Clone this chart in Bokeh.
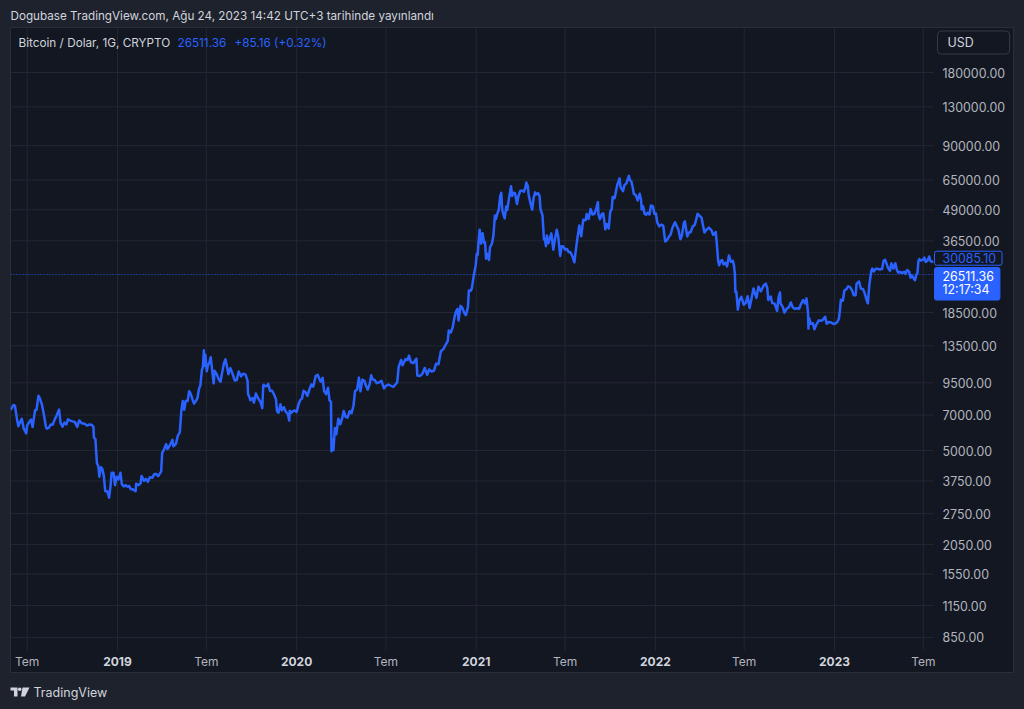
import math
import pandas as pd
from bokeh.plotting import figure
from bokeh.models import Range1d, Label, ColumnDataSource, Spacer
from bokeh.layouts import column, row
from bokeh.embed import file_html
from bokeh.resources import INLINE

# ---------------- data ----------------
dates = [
    "2018-05-28", "2018-05-31", "2018-06-03", "2018-06-06", "2018-06-10", "2018-06-13", "2018-06-16",
    "2018-06-20", "2018-06-24", "2018-06-29", "2018-07-01", "2018-07-05", "2018-07-09", "2018-07-12",
    "2018-07-17", "2018-07-20", "2018-07-24", "2018-07-27", "2018-07-31", "2018-08-04", "2018-08-08",
    "2018-08-10", "2018-08-14", "2018-08-18", "2018-08-22", "2018-08-26", "2018-08-30", "2018-09-04",
    "2018-09-07", "2018-09-11", "2018-09-15", "2018-09-19", "2018-09-22", "2018-09-27", "2018-10-01",
    "2018-10-06", "2018-10-11", "2018-10-15", "2018-10-20", "2018-10-26", "2018-10-31", "2018-11-05",
    "2018-11-10", "2018-11-13", "2018-11-14", "2018-11-17", "2018-11-19", "2018-11-20", "2018-11-23",
    "2018-11-25", "2018-11-28", "2018-12-01", "2018-12-04", "2018-12-07", "2018-12-11", "2018-12-15",
    "2018-12-18", "2018-12-20", "2018-12-24", "2018-12-27", "2018-12-30",
    "2019-01-03", "2019-01-07", "2019-01-10", "2019-01-14", "2019-01-18", "2019-01-21", "2019-01-25",
    "2019-01-28", "2019-02-01", "2019-02-07", "2019-02-08", "2019-02-13", "2019-02-17", "2019-02-19",
    "2019-02-24", "2019-02-28", "2019-03-04", "2019-03-08", "2019-03-13", "2019-03-17", "2019-03-21",
    "2019-03-25", "2019-03-31", "2019-04-02", "2019-04-06", "2019-04-10", "2019-04-13", "2019-04-18",
    "2019-04-23", "2019-04-25", "2019-04-30", "2019-05-04", "2019-05-08", "2019-05-11", "2019-05-14",
    "2019-05-17", "2019-05-20", "2019-05-24", "2019-05-27", "2019-05-30", "2019-06-03", "2019-06-06",
    "2019-06-10", "2019-06-13", "2019-06-16", "2019-06-19", "2019-06-22", "2019-06-24", "2019-06-26",
    "2019-06-27", "2019-06-29", "2019-07-02", "2019-07-04", "2019-07-07", "2019-07-10", "2019-07-14",
    "2019-07-16", "2019-07-18", "2019-07-22", "2019-07-26", "2019-07-30", "2019-08-02", "2019-08-06",
    "2019-08-09", "2019-08-13", "2019-08-15", "2019-08-19", "2019-08-23", "2019-08-28", "2019-09-01",
    "2019-09-05", "2019-09-10", "2019-09-14", "2019-09-19", "2019-09-23", "2019-09-24", "2019-09-29",
    "2019-10-03", "2019-10-06", "2019-10-10", "2019-10-15", "2019-10-19", "2019-10-23", "2019-10-25",
    "2019-10-26", "2019-10-28", "2019-11-01", "2019-11-04", "2019-11-08", "2019-11-12", "2019-11-16",
    "2019-11-20", "2019-11-22", "2019-11-25", "2019-11-29", "2019-12-02", "2019-12-06", "2019-12-10",
    "2019-12-14", "2019-12-17", "2019-12-18", "2019-12-21", "2019-12-24", "2019-12-28",
    "2020-01-01", "2020-01-05", "2020-01-08", "2020-01-12", "2020-01-15", "2020-01-19", "2020-01-23",
    "2020-01-27", "2020-01-31", "2020-02-04", "2020-02-09", "2020-02-13", "2020-02-16", "2020-02-19",
    "2020-02-23", "2020-02-26", "2020-03-01", "2020-03-05", "2020-03-08", "2020-03-11", "2020-03-12",
    "2020-03-13", "2020-03-16", "2020-03-19", "2020-03-22", "2020-03-26", "2020-03-30", "2020-04-03",
    "2020-04-06", "2020-04-10", "2020-04-14", "2020-04-18", "2020-04-22", "2020-04-26", "2020-04-29",
    "2020-05-03", "2020-05-07", "2020-05-10", "2020-05-14", "2020-05-18", "2020-05-22", "2020-05-25",
    "2020-05-29", "2020-06-01", "2020-06-04", "2020-06-08", "2020-06-12", "2020-06-16", "2020-06-22",
    "2020-06-27", "2020-07-01", "2020-07-06", "2020-07-11", "2020-07-16", "2020-07-21", "2020-07-24",
    "2020-07-27", "2020-08-01", "2020-08-04", "2020-08-10", "2020-08-14", "2020-08-17", "2020-08-21",
    "2020-08-26", "2020-09-01", "2020-09-03", "2020-09-08", "2020-09-13", "2020-09-18", "2020-09-23",
    "2020-09-27", "2020-10-02", "2020-10-07", "2020-10-11", "2020-10-16", "2020-10-21", "2020-10-26",
    "2020-10-30", "2020-11-04", "2020-11-06", "2020-11-10", "2020-11-14", "2020-11-18", "2020-11-21",
    "2020-11-24", "2020-11-26", "2020-11-30", "2020-12-03", "2020-12-08", "2020-12-11", "2020-12-15",
    "2020-12-17", "2020-12-21", "2020-12-23", "2020-12-27", "2020-12-31",
    "2021-01-02", "2021-01-04", "2021-01-06", "2021-01-08", "2021-01-11", "2021-01-13", "2021-01-14",
    "2021-01-17", "2021-01-19", "2021-01-21", "2021-01-24", "2021-01-27", "2021-01-29", "2021-02-02",
    "2021-02-05", "2021-02-08", "2021-02-10", "2021-02-13", "2021-02-16", "2021-02-19", "2021-02-21",
    "2021-02-23", "2021-02-26", "2021-02-28", "2021-03-03", "2021-03-05", "2021-03-09", "2021-03-13",
    "2021-03-15", "2021-03-18", "2021-03-21", "2021-03-25", "2021-03-28", "2021-04-01", "2021-04-05",
    "2021-04-08", "2021-04-11", "2021-04-13", "2021-04-16", "2021-04-18", "2021-04-22", "2021-04-25",
    "2021-04-28", "2021-05-01", "2021-05-03", "2021-05-07", "2021-05-10", "2021-05-12", "2021-05-16",
    "2021-05-19", "2021-05-21", "2021-05-23", "2021-05-25", "2021-05-28", "2021-05-31", "2021-06-03",
    "2021-06-07", "2021-06-10", "2021-06-14", "2021-06-17", "2021-06-21", "2021-06-24", "2021-06-27",
    "2021-07-01", "2021-07-05", "2021-07-08", "2021-07-12", "2021-07-16", "2021-07-20", "2021-07-22",
    "2021-07-26", "2021-07-30", "2021-08-03", "2021-08-07", "2021-08-12", "2021-08-14", "2021-08-18",
    "2021-08-22", "2021-08-26", "2021-08-30", "2021-09-03", "2021-09-06", "2021-09-07", "2021-09-10",
    "2021-09-14", "2021-09-17", "2021-09-21", "2021-09-24", "2021-09-28", "2021-10-01", "2021-10-04",
    "2021-10-06", "2021-10-10", "2021-10-15", "2021-10-20", "2021-10-22", "2021-10-27", "2021-10-30",
    "2021-11-03", "2021-11-08", "2021-11-10", "2021-11-13", "2021-11-16", "2021-11-18", "2021-11-22",
    "2021-11-26", "2021-11-30", "2021-12-03", "2021-12-04", "2021-12-07", "2021-12-10", "2021-12-13",
    "2021-12-16", "2021-12-20", "2021-12-23", "2021-12-27", "2021-12-30",
    "2022-01-02", "2022-01-05", "2022-01-09", "2022-01-13", "2022-01-17", "2022-01-21", "2022-01-24",
    "2022-01-28", "2022-02-01", "2022-02-05", "2022-02-10", "2022-02-13", "2022-02-17", "2022-02-21",
    "2022-02-24", "2022-02-28", "2022-03-02", "2022-03-07", "2022-03-10", "2022-03-14", "2022-03-18",
    "2022-03-22", "2022-03-25", "2022-03-28", "2022-04-01", "2022-04-05", "2022-04-08", "2022-04-11",
    "2022-04-15", "2022-04-20", "2022-04-25", "2022-04-29", "2022-05-04", "2022-05-06", "2022-05-09",
    "2022-05-11", "2022-05-14", "2022-05-17", "2022-05-20", "2022-05-24", "2022-05-27", "2022-05-31",
    "2022-06-04", "2022-06-08", "2022-06-10", "2022-06-12", "2022-06-13", "2022-06-15", "2022-06-18",
    "2022-06-21", "2022-06-25", "2022-06-30", "2022-07-04", "2022-07-08", "2022-07-12", "2022-07-16",
    "2022-07-20", "2022-07-26", "2022-07-30", "2022-08-04", "2022-08-10", "2022-08-14", "2022-08-17",
    "2022-08-19", "2022-08-24", "2022-08-27", "2022-09-01", "2022-09-06", "2022-09-09", "2022-09-12",
    "2022-09-13", "2022-09-18", "2022-09-21", "2022-09-26", "2022-09-30", "2022-10-04", "2022-10-08",
    "2022-10-12", "2022-10-16", "2022-10-21", "2022-10-25", "2022-10-29", "2022-11-02", "2022-11-05",
    "2022-11-08", "2022-11-09", "2022-11-10", "2022-11-14", "2022-11-18", "2022-11-21", "2022-11-25",
    "2022-11-30", "2022-12-04", "2022-12-08", "2022-12-13", "2022-12-16", "2022-12-20", "2022-12-25",
    "2022-12-30",
    "2023-01-03", "2023-01-07", "2023-01-10", "2023-01-12", "2023-01-14", "2023-01-18", "2023-01-21",
    "2023-01-25", "2023-01-29", "2023-02-02", "2023-02-06", "2023-02-09", "2023-02-13", "2023-02-15",
    "2023-02-20", "2023-02-24", "2023-02-28", "2023-03-03", "2023-03-09", "2023-03-10", "2023-03-13",
    "2023-03-17", "2023-03-19", "2023-03-22", "2023-03-26", "2023-03-30", "2023-04-03", "2023-04-08",
    "2023-04-11", "2023-04-14", "2023-04-17", "2023-04-20", "2023-04-24", "2023-04-27", "2023-05-01",
    "2023-05-05", "2023-05-08", "2023-05-11", "2023-05-15", "2023-05-19", "2023-05-23", "2023-05-26",
    "2023-05-29", "2023-06-02", "2023-06-05", "2023-06-07", "2023-06-10", "2023-06-14", "2023-06-17",
    "2023-06-19", "2023-06-21", "2023-06-23", "2023-06-26", "2023-06-30", "2023-07-03", "2023-07-06",
    "2023-07-09", "2023-07-13", "2023-07-15", "2023-07-18", "2023-07-21",
]

prices = [
    7370, 7500, 7700, 7650, 6780, 6300, 6500,
    6750, 6150, 5880, 6350, 6550, 6700, 6250,
    7320, 7350, 8400, 8200, 7730, 7030, 6280,
    6150, 6200, 6400, 6380, 6700, 6970, 7370,
    6500, 6270, 6520, 6400, 6720, 6640, 6590,
    6560, 6250, 6650, 6480, 6450, 6330, 6400,
    6370, 6250, 5650, 5580, 4800, 4450, 4300,
    3900, 4270, 4200, 3950, 3400, 3400, 3200,
    3600, 4050, 4050, 3600, 3900,
    3800, 4050, 3630, 3560, 3600, 3550, 3570,
    3460, 3460, 3400, 3650, 3600, 3660, 3930,
    3750, 3820, 3720, 3880, 3860, 4000, 4000,
    3920, 4100, 4880, 5060, 5310, 5070, 5270,
    5530, 5200, 5320, 5760, 5940, 7250, 7990,
    7360, 8000, 8000, 8770, 8570, 8100, 7800,
    8010, 8230, 8960, 9290, 10740, 11010, 12930,
    11160, 12400, 10590, 11200, 11450, 12100, 10190,
    9450, 10640, 10340, 9850, 9600, 10400, 11470,
    11860, 10860, 10310, 10920, 10410, 9710, 9760,
    10570, 10100, 10360, 10270, 9680, 8560, 8050,
    8230, 7870, 8590, 8160, 7960, 7470, 9250,
    9330, 9220, 9200, 9410, 8800, 8810, 8500,
    8120, 7280, 7150, 7750, 7310, 7540, 7220,
    7070, 6640, 7290, 7140, 7250, 7310,
    7200, 7760, 8040, 8190, 8820, 8700, 8390,
    8910, 9350, 9170, 10150, 10240, 9900, 9600,
    9960, 8780, 8530, 9070, 8040, 7930, 4970,
    5560, 5020, 6190, 5830, 6760, 6410, 6810,
    7270, 6870, 6840, 7260, 7120, 7680, 8790,
    8900, 9980, 8760, 9790, 9690, 9170, 8900,
    9420, 10200, 9820, 9760, 9470, 9520, 9680,
    9010, 9230, 9350, 9240, 9130, 9390, 9540,
    11040, 11800, 11220, 11900, 11800, 12300, 11530,
    11470, 11950, 10170, 10130, 10330, 10940, 10240,
    10780, 10570, 10670, 11380, 11320, 12820, 13070,
    13560, 14150, 15590, 15300, 16070, 17800, 18700,
    19160, 17150, 19700, 19440, 18350, 18050, 19420,
    22800, 22740, 23240, 26270, 28990,
    32180, 31970, 36770, 40580, 35540, 37390, 39190,
    35830, 36010, 30830, 32290, 30430, 34310, 35510,
    38290, 46400, 44850, 47170, 49130, 55900, 57540,
    48890, 46340, 45140, 50520, 48880, 54880, 61200,
    55850, 57620, 57350, 51700, 55840, 58740, 58730,
    58090, 60200, 63500, 61340, 56150, 51700, 49100,
    54900, 57800, 56600, 57350, 55860, 49150, 46430,
    37000, 37300, 34700, 38400, 35680, 37340, 39190,
    33560, 36700, 40520, 38100, 31620, 34670, 34700,
    33570, 33800, 32860, 32730, 31530, 29790, 32280,
    37270, 42200, 38150, 44560, 44400, 47060, 44900,
    49320, 46850, 47160, 49980, 52700, 46860, 44840,
    47100, 47260, 40690, 42810, 41030, 48150, 49240,
    55340, 54700, 61670, 65960, 60700, 58480, 61890,
    62940, 67550, 64990, 64160, 60370, 56940, 56290,
    53570, 57000, 53600, 49150, 50580, 47140, 46740,
    47640, 46880, 51030, 50640, 47120,
    47310, 43450, 41860, 42590, 42200, 36300, 36650,
    37730, 38720, 41410, 43560, 42200, 40550, 37070,
    38330, 43190, 43940, 38060, 39400, 39670, 41790,
    42370, 44530, 47130, 46310, 45500, 42280, 39530,
    40550, 41380, 40430, 38600, 39690, 36000, 30100,
    28940, 30100, 30410, 29200, 29640, 28630, 31790,
    29900, 30200, 29090, 26590, 22490, 22590, 19010,
    20720, 21490, 19930, 20220, 21600, 19330, 21200,
    23220, 21250, 23640, 22620, 23950, 24320, 23340,
    20830, 21540, 20260, 20130, 18790, 21360, 22400,
    20170, 19420, 18480, 19220, 19430, 20340, 19420,
    19150, 19260, 19170, 20090, 20820, 20160, 21150,
    18540, 15880, 17590, 16620, 16700, 15790, 16510,
    17170, 17110, 17220, 17780, 16630, 16900, 16840,
    16600,
    16680, 16950, 17440, 18850, 20880, 20680, 22780,
    23050, 23740, 23480, 22760, 21800, 21780, 24320,
    24830, 23170, 23140, 22360, 20360, 20190, 24110,
    27420, 28040, 27300, 27990, 28030, 27800, 27950,
    30210, 30490, 29430, 28240, 27510, 29480, 28080,
    29530, 27700, 26990, 27180, 26880, 27220, 26720,
    27700, 27250, 25730, 26350, 25850, 25120, 26520,
    26840, 30070, 30700, 30290, 30470, 31150, 29900,
    30170, 31470, 30320, 29860, 30085.10,
]

y_ticks = [850, 1150, 1550, 2050, 2750, 3750, 5000, 7000, 9500, 13500, 18500,
           36500, 49000, 65000, 90000, 130000, 180000]
tem_dates = ["2018-07-01", "2019-07-01", "2020-07-01", "2021-07-01", "2022-07-01", "2023-07-01"]
tem_label = "Tem"
year_dates = ["2019-01-01", "2020-01-01", "2021-01-01", "2022-01-01", "2023-01-01"]
year_labels = ["2019", "2020", "2021", "2022", "2023"]

header_text = "Dogubase TradingView.com, Ağu 24, 2023 14:42 UTC+3 tarihinde yayınlandı"
symbol_text = "Bitcoin / Dolar, 1G, CRYPTO"
last_price = 26511.36
change_text = "+85.16 (+0.32%)"
last_visible = 30085.10
countdown = "12:17:34"
currency = "USD"
brand = "TradingView"

# visible window of the price pane
view_start = "2018-05-28"
view_end = "2023-07-21 17:30"
price_top = 275800.0
price_bottom = 751.0

# ---------------- styling / layout ----------------
BG_OUT = "#1e222d"
BG_IN = "#131722"
GRID = "#232733"
BORDER = "#2a2e39"
BLUE = "#2962ff"
TXT = "#d1d4dc"
AXTXT = "#b2b5be"
FONT = "Inter"

PANE_W, PANE_H = 1004, 646     # whole chart pane (plot + price scale + time scale)
PLOT_W, PLOT_H = 923, 623      # the plotting area inside it


def ms(d):
    return pd.Timestamp(d).value / 1e6


x0, x1 = ms(view_start), ms(view_end)
x_pane_end = x0 + (x1 - x0) * PANE_W / PLOT_W
lt, lb = math.log10(price_top), math.log10(price_bottom)
y_pane_bottom = 10 ** (lt - (lt - lb) * PANE_H / PLOT_H)

src = ColumnDataSource(dict(date=[ms(d) for d in dates], price=prices))

p = figure(width=PANE_W, height=PANE_H, y_axis_type="log",
           x_axis_location=None, y_axis_location=None,
           x_range=Range1d(x0, x_pane_end), y_range=Range1d(y_pane_bottom, price_top),
           output_backend="svg", toolbar_location=None, min_border=0,
           background_fill_color=BG_IN, border_fill_color=BG_IN)
p.outline_line_color = BORDER
p.grid.visible = False

# grid lines of the price pane
p.segment(x0=[x0] * len(y_ticks), x1=[x1] * len(y_ticks), y0=y_ticks, y1=y_ticks,
          line_color=GRID, line_width=1)
grid_dates = [ms(d) for d in tem_dates + year_dates]
p.segment(x0=grid_dates, x1=grid_dates, y0=[price_bottom] * len(grid_dates),
          y1=[price_top] * len(grid_dates), line_color=GRID, line_width=1)

# price line
p.line(x="date", y="price", source=src, line_width=2.5, line_color=BLUE, line_join="round")

# last price dotted line
p.segment(x0=[x0], x1=[x1], y0=[last_price], y1=[last_price], line_color=BLUE,
          line_width=1, line_dash="1 2")

# price scale labels
for v in y_ticks:
    p.add_layout(Label(x=PLOT_W + 9, y=v, x_units="screen", y_units="data", text=f"{v:.2f}",
                       text_baseline="middle", text_font=FONT, text_font_size="12.4px",
                       text_color=AXTXT))

# time scale labels
TIME_Y = 12
for d in tem_dates:
    p.add_layout(Label(x=ms(d), y=TIME_Y, x_units="data", y_units="screen", text=tem_label,
                       text_align="center", text_baseline="middle", text_font=FONT,
                       text_font_size="12px", text_color=AXTXT))
for d, t in zip(year_dates, year_labels):
    p.add_layout(Label(x=ms(d), y=TIME_Y, x_units="data", y_units="screen", text=t,
                       text_align="center", text_baseline="middle", text_font=FONT,
                       text_font_style="bold", text_font_size="12px", text_color=TXT))

# legend row inside the pane
TOP_Y = PANE_H - 15
p.add_layout(Label(x=8, y=TOP_Y, x_units="screen", y_units="screen", text=symbol_text,
                   text_baseline="middle", text_font=FONT, text_font_size="11.75px", text_color=TXT))
p.add_layout(Label(x=167, y=TOP_Y, x_units="screen", y_units="screen", text=f"{last_price:.2f}",
                   text_baseline="middle", text_font=FONT, text_font_size="11.75px", text_color=BLUE))
p.add_layout(Label(x=224, y=TOP_Y, x_units="screen", y_units="screen", text=change_text,
                   text_baseline="middle", text_font=FONT, text_font_size="11.75px", text_color=BLUE))

# currency box
p.add_layout(Label(x=927, y=TOP_Y, x_units="screen", y_units="screen", text=currency,
                   text_baseline="middle", text_font=FONT, text_font_size="12.4px", text_color=TXT,
                   background_fill_color=BG_IN, border_line_color="#363a45",
                   padding=dict(left=10, right=36, top=4, bottom=4), border_radius=4))

# price tags on the price scale
p.add_layout(Label(x=PLOT_W + 1, y=last_visible, x_units="screen", y_units="data",
                   text=f"{last_visible:.2f}", y_offset=3,
                   text_baseline="middle", text_font=FONT, text_font_size="12.4px", text_color=BLUE,
                   background_fill_color=BG_IN, border_line_color=BLUE,
                   padding=dict(left=8, right=6, top=2, bottom=2), border_radius=2))
p.add_layout(Label(x=PLOT_W + 1, y=last_price, x_units="screen", y_units="data",
                   text=f"{last_price:.2f}\n{countdown}", y_offset=7, text_line_height=0.9,
                   text_baseline="top", text_font=FONT, text_font_size="12.4px", text_color="#ffffff",
                   background_fill_color=BLUE, border_line_color=BLUE,
                   padding=dict(left=8, right=6, top=1, bottom=3), border_radius=2))

# header strip
h = figure(width=1024, height=27, x_range=Range1d(0, 1024), y_range=Range1d(0, 27),
           x_axis_location=None, y_axis_location=None, toolbar_location=None,
           output_backend="svg", min_border=0,
           background_fill_color=BG_OUT, border_fill_color=BG_OUT)
h.outline_line_color = None
h.grid.visible = False
h.add_layout(Label(x=10, y=12, text=header_text, text_baseline="middle", text_font=FONT,
                   text_font_size="11.7px", text_color=TXT))

# footer strip with brand mark
f = figure(width=1024, height=36, x_range=Range1d(0, 1024), y_range=Range1d(0, 36),
           x_axis_location=None, y_axis_location=None, toolbar_location=None,
           output_backend="svg", min_border=0,
           background_fill_color=BG_OUT, border_fill_color=BG_OUT)
f.outline_line_color = None
f.grid.visible = False
logo_xs = [[10, 17, 17, 13.5, 13.5, 10], [22, 29, 24.5, 20.5]]
logo_ys = [[22, 22, 13, 13, 19, 19], [22, 22, 13, 13]]
f.patches(logo_xs, logo_ys, fill_color=TXT, line_color=None)
f.circle(x=[19.2], y=[20.2], radius=1.8, fill_color=TXT, line_color=None)
f.add_layout(Label(x=33, y=17, text=brand, text_baseline="middle", text_font=FONT,
                   text_font_size="12.5px", text_color=TXT))

layout = column(h, row(Spacer(width=10, height=PANE_H), p), f)

html = file_html(layout, INLINE)
html = html.replace("</head>", "<style>html,body{background:#1e222d;}</style></head>", 1)
open("out.html", "w").write(html)
